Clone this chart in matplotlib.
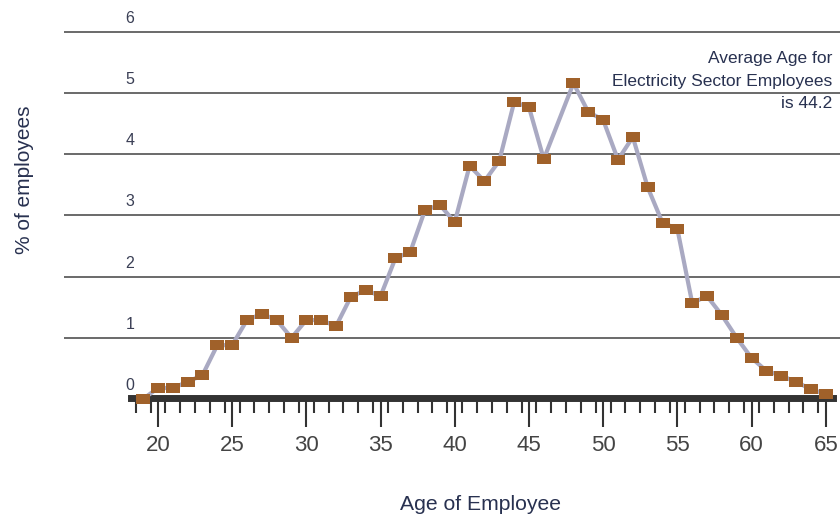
import numpy as np
import matplotlib
matplotlib.use("Agg")
import matplotlib.pyplot as plt
from matplotlib.path import Path

plt.rcParams['font.family'] = ['Liberation Sans Narrow', 'Liberation Sans', 'DejaVu Sans']

# age of employee vs % of employees (no point shown at 47)
ages = [19, 20, 21, 22, 23, 24, 25, 26, 27, 28, 29, 30, 31, 32, 33, 34, 35, 36, 37, 38,
        39, 40, 41, 42, 43, 44, 45, 46, 48, 49, 50, 51, 52, 53, 54, 55, 56, 57, 58, 59,
        60, 61, 62, 63, 64, 65]
pct = [0.0, 0.18, 0.18, 0.28, 0.39, 0.88, 0.88, 1.29, 1.39, 1.29, 1.0, 1.29, 1.29, 1.19,
       1.67, 1.78, 1.68, 2.30, 2.40, 3.09, 3.17, 2.89, 3.81, 3.56, 3.89, 4.85, 4.77, 3.92,
       5.16, 4.69, 4.56, 3.91, 4.28, 3.46, 2.88, 2.78, 1.57, 1.68, 1.37, 1.0, 0.67, 0.46,
       0.38, 0.28, 0.16, 0.08]
y_levels = [0, 1, 2, 3, 4, 5, 6]
x_major = [20, 25, 30, 35, 40, 45, 50, 55, 60, 65]
note = "Average Age for\nElectricity Sector Employees\nis 44.2"

navy = "#283150"
fig = plt.figure(figsize=(8.4, 5.17), dpi=100)
ax = fig.add_axes([64/840, 1-440/517, 776/840, 420/517])
ax.set_xlim(13.67, 65.96)
ax.set_ylim((399-440)/61.2, (399-20)/61.2)

for v in y_levels[1:]:
    ax.axhline(v, color="#505050", lw=1.2, zorder=1)
for v in y_levels:
    ax.text(18.1, v + 0.22, str(v), ha="center", va="center", fontsize=11.5, color="#3a3f55")

rect = Path([(-1, -0.62), (1, -0.62), (1, 0.62), (-1, 0.62), (-1, -0.62)],
            [Path.MOVETO, Path.LINETO, Path.LINETO, Path.LINETO, Path.CLOSEPOLY])
ax.plot(ages, pct, color="#a9a9c2", lw=3, zorder=3)
ax.plot(ages, pct, ls="none", marker=rect, markersize=10.5, color="#a0612a",
        markeredgewidth=0, zorder=4)

ax.text(65.42, 5.68, note, ha="right", va="top", fontsize=12.5, color=navy, linespacing=1.62)

for s in ["left", "right", "top"]:
    ax.spines[s].set_visible(False)
ax.spines["bottom"].set_position(("data", 0.02))
ax.spines["bottom"].set_bounds(18.18, 65.5)
ax.spines["bottom"].set_linewidth(5)
ax.spines["bottom"].set_color("#333333")
ax.spines["bottom"].set_zorder(2)
ax.set_yticks([])
ax.set_xticks(x_major)
ax.set_xticks(np.arange(18.5, 65, 1), minor=True)
ax.tick_params(axis="x", which="major", length=21, width=1.5, color="#333333",
               labelsize=16, labelcolor="#444444", pad=6)
ax.tick_params(axis="x", which="minor", length=11, width=1.5, color="#333333")

fig.text(480/840, 1-505/517, "Age of Employee", ha="center", va="center",
         fontsize=15.2, color=navy)
fig.text(25/840, 1-180/517, "% of employees", ha="center", va="center",
         rotation=90, fontsize=15, color=navy)

fig.savefig("out.png", dpi=100)
